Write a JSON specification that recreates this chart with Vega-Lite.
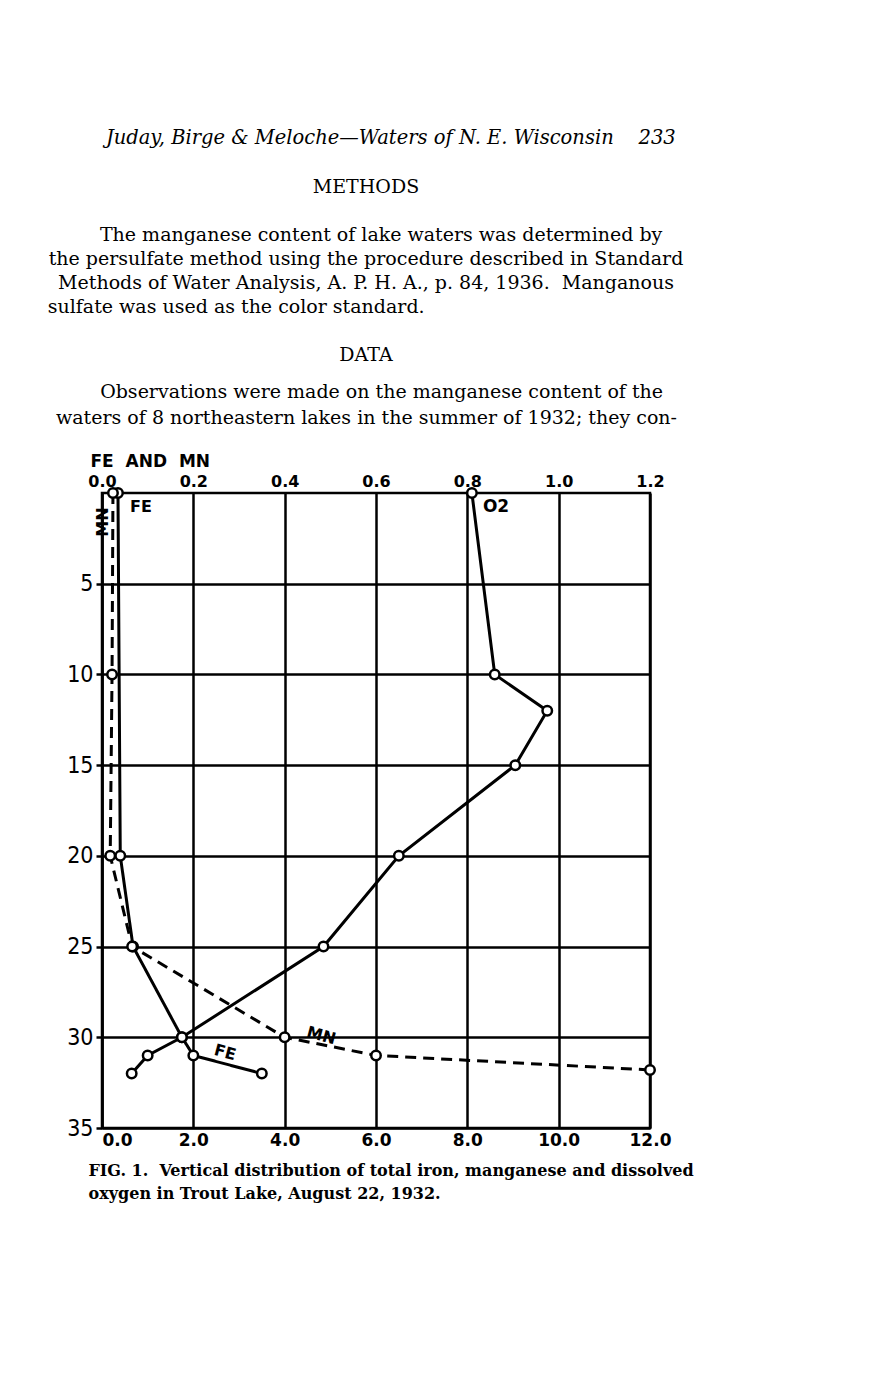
{
  "$schema": "https://vega.github.io/schema/vega-lite/v6.json",
  "width": 548,
  "height": 635,
  "autosize": {"type": "none"},
  "padding": {"left": 102, "top": 493, "right": 224, "bottom": 252},
  "background": "white",
  "title": {
    "text": "\u200b\u00a0\u00a0\u00a0\u00a0\u00a0\u00a0\u00a0\u00a0Juday, Birge & Meloche\u2014Waters of N. E. Wisconsin\u00a0\u00a0\u00a0\u00a0233",
    "subtitle": [
      "METHODS",
      "\u200b",
      "\u200b\u00a0\u00a0\u00a0\u00a0\u00a0The manganese content of lake waters was determined by",
      "the persulfate method using the procedure described in Standard",
      "Methods of Water Analysis, A. P. H. A., p. 84, 1936.\u00a0 Manganous",
      "sulfate was used as the color standard.\u00a0\u00a0\u00a0\u00a0\u00a0\u00a0\u00a0\u00a0\u00a0\u00a0\u00a0\u00a0\u00a0\u00a0\u00a0\u00a0\u00a0\u00a0\u00a0\u00a0\u00a0\u00a0\u00a0\u00a0\u00a0\u00a0\u00a0\u00a0\u00a0\u00a0\u00a0\u00a0\u00a0\u00a0\u00a0\u00a0\u00a0\u00a0\u00a0\u00a0\u00a0\u00a0\u00a0\u200b",
      "\u200b",
      "DATA"
    ],
    "anchor": "middle",
    "frame": "group",
    "align": "center",
    "dx": -10,
    "offset": 16,
    "font": "DejaVu Serif",
    "fontSize": 19.5,
    "fontStyle": "italic",
    "fontWeight": "normal",
    "color": "black",
    "subtitleFont": "DejaVu Serif",
    "subtitleFontSize": 19,
    "subtitleFontWeight": "normal",
    "subtitleColor": "black",
    "subtitleLineHeight": 24,
    "subtitlePadding": 30
  },
  "config": {
    "view": {"stroke": "black", "strokeWidth": 2.5},
    "axis": {"labelColor": "black", "titleColor": "black"}
  },
  "datasets": {
    "fe_mn": [
      {"series": "Fe", "depth": 0, "mg_l": 0.035},
      {"series": "Fe", "depth": 20, "mg_l": 0.04},
      {"series": "Fe", "depth": 25, "mg_l": 0.068},
      {"series": "Fe", "depth": 30, "mg_l": 0.175},
      {"series": "Fe", "depth": 31, "mg_l": 0.2},
      {"series": "Fe", "depth": 32, "mg_l": 0.35},
      {"series": "Mn", "depth": 0, "mg_l": 0.024},
      {"series": "Mn", "depth": 10, "mg_l": 0.022},
      {"series": "Mn", "depth": 20, "mg_l": 0.018},
      {"series": "Mn", "depth": 25, "mg_l": 0.066},
      {"series": "Mn", "depth": 30, "mg_l": 0.4},
      {"series": "Mn", "depth": 31, "mg_l": 0.6},
      {"series": "Mn", "depth": 31.8, "mg_l": 1.2}
    ],
    "oxygen": [
      {"depth": 0, "o2": 8.1},
      {"depth": 10, "o2": 8.6},
      {"depth": 12, "o2": 9.75},
      {"depth": 15, "o2": 9.05},
      {"depth": 20, "o2": 6.5},
      {"depth": 25, "o2": 4.85},
      {"depth": 30, "o2": 1.75},
      {"depth": 31, "o2": 1.0},
      {"depth": 32, "o2": 0.65}
    ]
  },
  "encoding": {
    "y": {
      "field": "depth",
      "type": "quantitative",
      "scale": {"domain": [0, 35], "reverse": true, "nice": false, "zero": false},
      "axis": {
        "orient": "left",
        "values": [5, 10, 15, 20, 25, 30, 35],
        "grid": true, "gridColor": "black", "gridWidth": 2.5, "gridOpacity": 1,
        "domain": true, "domainColor": "black", "domainWidth": 2.5,
        "ticks": true, "tickSize": 6, "tickWidth": 2.5, "tickColor": "black",
        "labelFont": "DejaVu Sans Condensed, Liberation Sans, sans-serif", "labelFontSize": 23, "labelPadding": 3, "labelColor": "black",
        "title": "FE\u00a0 AND\u00a0 MN",
        "titleAngle": 0, "titleAlign": "left", "titleBaseline": "alphabetic",
        "titleX": -12, "titleY": -27,
        "titleFont": "DejaVu Sans", "titleFontSize": 17, "titleFontWeight": "bold", "titleColor": "black"
      }
    }
  },
  "layer": [
    {
      "data": {"name": "fe_mn"},
      "encoding": {
        "x": {
          "field": "mg_l",
          "type": "quantitative",
          "scale": {"domain": [0, 1.2], "nice": false},
          "axis": {
            "orient": "top",
            "values": [0, 0.2, 0.4, 0.6, 0.8, 1.0, 1.2],
            "format": ".1f",
            "grid": true, "gridColor": "black", "gridWidth": 2.5, "gridOpacity": 1,
            "domain": false, "ticks": false, "labelFlush": false,
            "labelFont": "DejaVu Sans", "labelFontSize": 16, "labelFontWeight": "bold", "labelPadding": 4,
            "title": [
              "\u200b\u00a0\u00a0\u00a0\u00a0\u00a0Observations were made on the manganese content of the",
              "waters of 8 northeastern lakes in the summer of 1932; they con-"
            ],
            "titleFont": "DejaVu Serif", "titleFontSize": 19, "titleFontWeight": "normal",
            "titleAlign": "center", "titleBaseline": "alphabetic",
            "titleX": 264, "titleY": -96, "titleLineHeight": 26
          }
        }
      },
      "layer": [
        {
          "mark": {"type": "line", "color": "black", "strokeWidth": 3},
          "encoding": {
            "detail": {"field": "series", "type": "nominal"},
            "strokeDash": {"field": "series", "type": "nominal", "scale": {"domain": ["Fe", "Mn"], "range": [[1, 0], [11, 7]]}, "legend": null},
            "order": {"field": "depth", "type": "quantitative"}
          }
        },
        {
          "mark": {"type": "point", "shape": "circle", "filled": true, "fill": "white", "stroke": "black", "strokeWidth": 2.5, "size": 90, "opacity": 1}
        },
        {
          "transform": [{"filter": "datum.series === 'Fe' && datum.depth === 0"}],
          "mark": {"type": "text", "text": "FE", "align": "left", "baseline": "middle", "dx": 12, "dy": 14, "font": "DejaVu Sans", "fontSize": 16, "fontWeight": "bold", "color": "black"}
        },
        {
          "transform": [{"filter": "datum.series === 'Mn' && datum.depth === 0"}],
          "mark": {"type": "text", "text": "MN", "align": "center", "baseline": "middle", "angle": 270, "dx": -29, "dy": -10, "font": "DejaVu Sans", "fontSize": 16, "fontWeight": "bold", "color": "black"}
        },
        {
          "transform": [{"filter": "datum.series === 'Fe' && datum.depth === 31"}],
          "mark": {"type": "text", "text": "FE", "align": "center", "baseline": "middle", "angle": 15, "dx": 30, "dy": -11, "font": "DejaVu Sans", "fontSize": 16, "fontWeight": "bold", "color": "black"}
        },
        {
          "transform": [{"filter": "datum.series === 'Mn' && datum.depth === 30"}],
          "mark": {"type": "text", "text": "MN", "align": "center", "baseline": "middle", "angle": 15, "dx": 35, "dy": -11, "font": "DejaVu Sans", "fontSize": 16, "fontWeight": "bold", "color": "black"}
        }
      ]
    },
    {
      "data": {"name": "oxygen"},
      "encoding": {
        "x": {
          "field": "o2",
          "type": "quantitative",
          "scale": {"domain": [0, 12], "nice": false},
          "axis": {
            "orient": "bottom",
            "values": [0, 2, 4, 6, 8, 10, 12],
            "format": ".1f",
            "grid": false, "domain": false, "ticks": false, "labelFlush": false,
            "labelAlign": {"condition": {"test": "datum.value === 0", "value": "left"}, "value": "center"},
            "labelFont": "DejaVu Sans", "labelFontSize": 17, "labelFontWeight": "bold", "labelPadding": 4,
            "title": [
              "FIG. 1.\u00a0 Vertical distribution of total iron, manganese and dissolved",
              "oxygen in Trout Lake, August 22, 1932."
            ],
            "titleFont": "DejaVu Serif", "titleFontSize": 16, "titleFontWeight": "bold",
            "titleAlign": "left", "titleBaseline": "alphabetic",
            "titleX": -14, "titleY": 47, "titleLineHeight": 23
          }
        }
      },
      "layer": [
        {
          "mark": {"type": "line", "color": "black", "strokeWidth": 3},
          "encoding": {"order": {"field": "depth", "type": "quantitative"}}
        },
        {
          "mark": {"type": "point", "shape": "circle", "filled": true, "fill": "white", "stroke": "black", "strokeWidth": 2.5, "size": 90, "opacity": 1}
        },
        {
          "transform": [{"filter": "datum.depth === 0"}],
          "mark": {"type": "text", "text": "O2", "align": "left", "baseline": "middle", "dx": 11, "dy": 14, "font": "DejaVu Sans", "fontSize": 17, "fontWeight": "bold", "color": "black"}
        }
      ]
    }
  ],
  "resolve": {"scale": {"x": "independent"}}
}
